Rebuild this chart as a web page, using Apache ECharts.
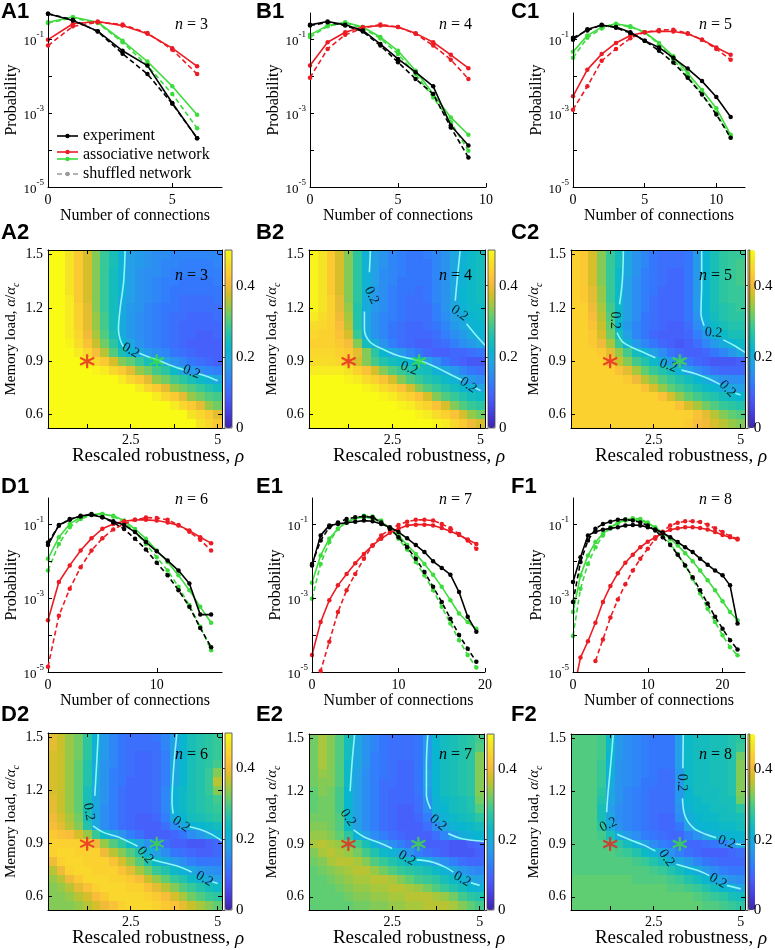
<!DOCTYPE html>
<html><head><meta charset="utf-8">
<script src="https://cdn.jsdelivr.net/npm/echarts@6/dist/echarts.min.js"></script>
<style>html,body{margin:0;padding:0;background:#fff}#c{width:775px;height:950px}</style>
</head><body><div id="c"></div>
<script>
// ---------------- DATA ----------------
// Line panels: log10(probability) vs number of connections (index = number of connections)
const A1_exp     = [-0.32,-0.50,-0.79,-1.32,-1.72,-2.73,-3.68];
const A1_expSh   = [-0.32,-0.48,-0.80,-1.40,-1.95,-2.75,-3.68];
const A1_red     = [-1.02,-0.59,-0.53,-0.64,-0.86,-1.25,-1.74];
const A1_redSh   = [-1.18,-0.66,-0.55,-0.61,-0.84,-1.29,-1.95];
const A1_grn     = [-0.55,-0.41,-0.55,-1.05,-1.61,-2.28,-3.05];
const A1_grnSh   = [-0.57,-0.43,-0.57,-1.09,-1.72,-2.49,-3.41];

const B1_exp     = [-0.62,-0.53,-0.62,-0.77,-1.14,-1.54,-1.90,-2.28,-3.34,-3.88];
const B1_expSh   = [-0.64,-0.55,-0.64,-0.80,-1.18,-1.63,-2.08,-2.49,-3.39,-4.20];
const B1_red     = [-1.72,-1.09,-0.82,-0.68,-0.64,-0.68,-0.85,-1.09,-1.43,-1.79];
const B1_redSh   = [-2.05,-1.27,-0.89,-0.71,-0.61,-0.68,-0.86,-1.18,-1.56,-2.08];
const B1_grn     = [-0.89,-0.64,-0.55,-0.68,-0.95,-1.32,-1.86,-2.49,-3.12,-3.59];
const B1_grnSh   = [-0.95,-0.66,-0.57,-0.71,-0.99,-1.41,-1.95,-2.58,-3.25,-4.02];

const C1_exp     = [-1.02,-0.74,-0.63,-0.68,-0.82,-1.05,-1.23,-1.51,-1.80,-2.14,-2.57,-3.11];
const C1_expSh   = [-0.97,-0.77,-0.62,-0.70,-0.84,-1.05,-1.32,-1.64,-2.05,-2.50,-3.04,-3.67];
const C1_red     = [-2.55,-1.83,-1.41,-1.11,-0.91,-0.82,-0.79,-0.80,-0.86,-1.02,-1.23,-1.43];
const C1_redSh   = [-2.91,-2.28,-1.59,-1.27,-0.98,-0.82,-0.76,-0.75,-0.85,-1.02,-1.27,-1.56];
const C1_grn     = [-1.35,-0.91,-0.68,-0.59,-0.66,-0.82,-1.11,-1.47,-1.93,-2.38,-2.87,-3.59];
const C1_grnSh   = [-1.51,-0.97,-0.72,-0.61,-0.68,-0.82,-1.15,-1.56,-2.01,-2.49,-3.00,-3.66];

const D1_exp     = [-1.57,-1.03,-0.89,-0.78,-0.76,-0.82,-0.93,-1.03,-1.22,-1.49,-1.74,-1.99,-2.26,-2.61,-3.45,-3.45];
const D1_expSh   = [-1.50,-1.05,-0.87,-0.80,-0.73,-0.82,-0.96,-1.14,-1.40,-1.69,-2.05,-2.39,-2.79,-3.24,-3.81,-4.33];
const D1_red     = [-3.60,-2.57,-2.12,-1.72,-1.39,-1.13,-1.00,-0.93,-0.89,-0.89,-0.91,-0.96,-1.04,-1.18,-1.36,-1.52];
const D1_redSh   = [-4.86,-3.48,-2.75,-2.17,-1.72,-1.39,-1.15,-1.00,-0.89,-0.83,-0.84,-0.89,-1.03,-1.21,-1.43,-1.72];
const D1_grn     = [-1.94,-1.36,-1.00,-0.82,-0.75,-0.73,-0.78,-0.91,-1.14,-1.40,-1.72,-2.03,-2.39,-2.79,-3.24,-3.67];
const D1_grnSh   = [-2.26,-1.54,-1.09,-0.87,-0.76,-0.73,-0.80,-0.96,-1.22,-1.54,-1.90,-2.26,-2.70,-3.20,-3.78,-4.41];

const E1_exp     = [-2.12,-1.31,-1.04,-1.00,-0.97,-0.94,-0.91,-0.93,-1.00,-1.09,-1.22,-1.39,-1.57,-1.76,-2.01,-2.19,-2.37,-2.84,-3.51,-3.91];
const E1_expSh   = [-2.08,-1.45,-1.09,-0.96,-0.87,-0.82,-0.80,-0.82,-0.96,-1.13,-1.36,-1.63,-1.94,-2.30,-2.70,-3.11,-3.56,-4.00,-4.37,-4.72];
const E1_red     = [-4.54,-3.65,-3.06,-2.66,-2.35,-2.06,-1.81,-1.58,-1.40,-1.24,-1.13,-1.04,-1.02,-1.02,-1.04,-1.11,-1.20,-1.30,-1.42,-1.54];
const E1_redSh   = [-6.5,-4.97,-4.18,-3.38,-2.79,-2.35,-1.94,-1.58,-1.31,-1.15,-1.03,-0.94,-0.89,-0.89,-0.91,-1.00,-1.12,-1.27,-1.45,-1.67];
const E1_grn     = [-2.59,-1.85,-1.40,-1.13,-0.96,-0.85,-0.82,-0.85,-0.96,-1.12,-1.31,-1.57,-1.81,-2.08,-2.37,-2.70,-3.06,-3.42,-3.65,-3.83];
const E1_grnSh   = [-3.02,-2.08,-1.49,-1.13,-0.94,-0.85,-0.78,-0.80,-0.91,-1.12,-1.40,-1.69,-2.03,-2.39,-2.79,-3.24,-3.69,-4.14,-4.54,-4.88];

const F1_exp     = [-2.57,-1.90,-1.31,-1.21,-1.16,-1.12,-1.09,-1.04,-1.03,-1.04,-1.09,-1.15,-1.24,-1.36,-1.49,-1.63,-1.76,-1.94,-2.10,-2.26,-2.39,-2.66,-3.69];
const F1_expSh   = [-3.11,-2.03,-1.45,-1.13,-1.00,-0.94,-0.89,-0.88,-0.91,-0.96,-1.04,-1.18,-1.36,-1.57,-1.83,-2.12,-2.44,-2.79,-3.15,-3.51,-3.83,-4.14,-4.39];
const F1_red     = [-5.6,-4.61,-4.17,-3.67,-3.11,-2.68,-2.33,-2.05,-1.83,-1.63,-1.48,-1.36,-1.24,-1.16,-1.12,-1.09,-1.09,-1.11,-1.15,-1.22,-1.30,-1.36,-1.42];
const F1_redSh   = [null,null,null,-4.70,-4.12,-3.53,-3.04,-2.63,-2.26,-1.94,-1.67,-1.40,-1.21,-1.04,-0.97,-0.93,-0.93,-0.95,-1.02,-1.12,-1.22,-1.33,-1.40];
const F1_grn     = [-3.38,-2.39,-1.85,-1.49,-1.27,-1.09,-0.97,-0.91,-0.89,-0.91,-0.98,-1.09,-1.24,-1.40,-1.58,-1.79,-2.01,-2.26,-2.52,-2.79,-3.09,-3.38,-3.60];
const F1_grnSh   = [-4.03,-2.75,-2.08,-1.63,-1.31,-1.12,-0.97,-0.88,-0.85,-0.87,-0.96,-1.12,-1.30,-1.54,-1.81,-2.12,-2.48,-2.88,-3.29,-3.65,-4.01,-4.33,-4.55];

const lineXTicks = {A1:[0,5], B1:[0,5,10], C1:[0,5,10], D1:[0,10], E1:[0,10,20], F1:[0,10,20]};
const lineXMax   = {A1:7, B1:10, C1:12, D1:16, E1:20, F1:23};
const logYTickLabels = [-5,-3,-1];
const nValues = {A:3, B:4, C:5, D:6, E:7, F:8};

// Heatmap grid: rescaled robustness (columns) x memory load (rows, top to bottom)
const rhoCenters   = [0.25,0.5,0.75,1,1.25,1.5,1.75,2,2.25,2.5,2.75,3,3.25,3.5,3.75,4,4.25,4.5,4.75,5];
const alphaCenters = [1.5,1.45,1.4,1.35,1.3,1.25,1.2,1.15,1.1,1.05,1,0.95,0.9,0.85,0.8,0.75,0.7,0.65,0.6,0.55];
const rhoTicks = [1.25,2.5,3.75,5], rhoLabels = [2.5,5];
const alphaTicks = [0.6,0.9,1.2,1.5];
const cbarTicks = [0,0.2,0.4];
const cbarMax = 0.5;
const contourLevel = 0.2;
const starRed = [1.25,0.9], starGreen = [3.25,0.9];

// values x100
const A2 = [
[50,50,47,43,38,33,28,25,21,18,17,16,15,15,14,14,14,14,14,14],
[50,50,47,43,38,33,28,25,21,18,17,16,15,14,14,13,13,13,13,14],
[50,50,47,43,38,33,28,24,21,18,16,15,15,14,13,13,13,13,13,13],
[50,50,47,43,38,33,28,24,21,18,16,15,14,13,13,12,12,12,12,13],
[50,50,47,43,38,33,28,24,21,18,16,15,14,13,12,12,12,12,12,12],
[50,50,48,43,38,33,28,24,20,18,16,15,14,13,12,11,11,11,11,12],
[50,50,48,44,39,33,28,24,20,17,16,14,13,12,12,11,11,11,11,11],
[50,50,48,44,39,34,29,24,20,17,15,14,13,12,11,11,10,10,10,11],
[50,50,48,44,39,34,29,24,20,17,15,14,13,12,11,10,10,10,10,10],
[50,50,48,45,40,35,30,25,20,17,15,14,13,12,11,10,10,9,9,10],
[50,50,49,46,42,37,32,27,22,19,16,14,13,12,11,10,9,9,9,9],
[50,50,50,48,45,41,36,30,25,21,19,17,15,14,12,11,10,9,9,9],
[50,50,50,50,48,45,43,38,33,31,28,25,21,18,16,14,12,11,10,9],
[50,50,50,50,50,49,48,45,43,39,34,32,29,27,23,19,17,15,14,13],
[50,50,50,50,50,50,50,50,48,45,43,39,34,32,29,27,25,23,21,19],
[50,50,50,50,50,50,50,50,50,50,48,45,43,39,34,32,30,28,26,24],
[50,50,50,50,50,50,50,50,50,50,50,50,48,45,43,39,34,32,30,29],
[50,50,50,50,50,50,50,50,50,50,50,50,50,50,48,45,43,39,34,32],
[50,50,50,50,50,50,50,50,50,50,50,50,50,50,50,50,47,45,43,39],
[50,50,50,50,50,50,50,50,50,50,50,50,50,50,50,50,50,47,45,43]];
const B2 = [
[49,47,43,38,33,27,21,18,16,14,13,12,12,13,14,16,19,21,23,24],
[49,47,43,38,33,27,21,18,16,14,13,12,12,12,14,16,19,21,23,24],
[49,47,43,38,33,27,21,18,15,14,13,12,12,12,14,16,19,21,23,24],
[49,47,43,38,33,27,21,18,15,14,12,12,12,12,14,16,19,21,23,24],
[49,47,43,38,33,27,21,17,15,13,12,12,11,12,14,16,19,22,23,24],
[49,47,44,39,33,27,20,17,15,13,12,11,11,12,14,16,19,22,23,24],
[49,47,44,39,34,26,20,17,15,13,12,11,11,11,13,16,19,21,23,23],
[48,46,44,40,35,26,19,16,14,13,12,11,11,11,13,15,18,20,22,23],
[46,45,44,41,36,26,19,16,14,12,11,10,10,11,12,14,17,19,21,22],
[45,44,44,42,38,28,20,16,14,12,11,10,10,10,11,13,15,17,20,21],
[44,44,44,43,41,33,24,20,16,13,11,10,9,9,10,11,13,15,17,19],
[45,45,45,44,43,39,33,27,22,19,17,14,12,10,9,9,10,10,11,12],
[46,46,46,45,43,38,33,29,26,24,23,22,21,18,15,12,10,9,8,8],
[48,48,48,48,47,44,42,38,33,30,28,26,25,24,21,19,17,14,12,11],
[50,50,50,50,49,48,46,44,42,38,33,30,28,26,25,23,21,19,17,15],
[50,50,50,50,50,50,49,48,46,44,42,38,33,30,28,26,24,22,21,19],
[50,50,50,50,50,50,50,50,49,48,46,44,42,38,33,30,28,26,24,23],
[50,50,50,50,50,50,50,50,50,50,49,48,46,44,42,38,33,30,28,27],
[50,50,50,50,50,50,50,50,50,50,50,50,49,48,46,44,42,38,34,32],
[50,50,50,50,50,50,50,50,50,50,50,50,50,50,49,48,45,43,40,38]];
const C2 = [
[44,43,38,33,28,24,19,16,14,12,11,11,11,12,17,22,25,27,28,28],
[44,43,38,33,28,24,19,16,14,12,11,11,11,12,17,22,25,27,28,29],
[44,43,38,33,28,23,19,16,13,12,11,10,10,12,17,22,25,27,28,29],
[44,43,38,33,28,23,18,15,13,12,11,10,10,12,17,22,25,27,28,29],
[44,43,39,34,28,23,18,15,13,12,10,10,10,12,17,22,25,27,28,28],
[44,43,39,34,28,23,18,15,13,11,10,10,10,12,17,22,25,27,28,28],
[44,44,40,35,29,23,18,15,13,11,10,10,10,12,17,22,25,26,27,28],
[44,44,41,36,30,23,18,15,12,11,10,10,10,12,16,21,24,26,27,27],
[44,44,42,37,31,22,17,14,12,11,10,9,9,11,15,20,23,25,26,26],
[44,44,43,38,32,24,18,14,12,10,9,9,9,10,13,17,21,23,25,25],
[44,44,43,40,35,28,21,17,14,12,10,9,8,9,11,14,17,20,22,23],
[44,44,44,43,39,34,29,24,21,18,15,12,10,9,9,10,12,14,17,19],
[44,44,44,44,41,37,33,29,26,23,20,17,14,12,10,9,8,8,8,9],
[44,44,44,44,44,42,39,35,31,28,26,24,21,18,15,13,11,10,10,10],
[44,44,44,44,44,44,43,40,36,33,30,28,26,24,22,20,18,16,15,15],
[44,44,44,44,44,44,44,44,42,38,34,31,29,27,25,23,22,20,19,18],
[44,44,44,44,44,44,44,44,44,44,42,38,34,31,29,27,26,24,23,22],
[44,44,44,44,44,44,44,44,44,44,44,44,42,38,35,32,30,28,27,26],
[44,44,44,44,44,44,44,44,44,44,44,44,44,44,42,39,36,33,31,30],
[44,44,44,44,44,44,44,44,44,44,44,44,44,43,41,40,38,36,34,33]];
const D2 = [
[39,37,34,32,27,21,17,14,12,11,11,11,12,14,18,22,25,26,27,28],
[39,37,34,32,27,21,17,14,12,11,11,11,11,14,18,22,25,26,27,28],
[38,37,34,32,27,21,17,14,12,11,10,10,11,13,18,22,25,26,27,28],
[38,37,34,31,26,20,16,14,12,11,10,10,11,13,19,22,25,26,27,29],
[38,37,34,31,26,20,16,13,12,11,10,10,11,13,19,22,25,26,28,33],
[38,37,34,31,26,20,16,13,12,10,10,10,11,13,19,22,25,26,28,36],
[38,37,34,31,25,19,16,13,11,10,10,10,11,14,21,23,25,26,28,33],
[39,37,34,31,25,19,16,13,11,10,10,10,11,14,21,23,25,26,27,29],
[39,37,34,31,25,19,15,13,11,10,10,10,11,14,21,23,25,26,27,28],
[40,38,35,32,25,19,15,13,11,10,9,9,10,13,20,22,24,25,26,27],
[41,39,36,33,26,19,15,13,11,10,9,9,9,11,15,19,21,22,23,24],
[43,42,41,38,34,28,23,19,16,13,11,9,9,9,10,12,15,17,19,21],
[44,44,44,44,43,40,34,30,27,23,19,16,13,11,9,9,8,8,9,10],
[44,45,45,44,44,44,40,36,33,30,26,21,18,15,12,11,10,9,9,10],
[40,44,45,45,44,44,44,42,38,34,30,26,23,20,17,15,13,12,12,12],
[36,40,44,45,45,44,44,44,42,39,35,32,28,26,23,21,19,17,16,15],
[34,36,40,43,45,45,45,44,44,43,41,37,34,31,28,26,23,21,19,18],
[33,34,36,39,42,44,45,45,45,44,44,42,39,36,33,30,28,26,24,23],
[33,33,34,36,38,41,43,45,45,45,45,44,43,41,38,35,32,30,28,27],
[33,33,33,34,36,38,40,42,44,45,45,45,44,43,42,39,37,35,33,31]];
const E2 = [
[32,35,33,30,24,19,16,14,12,11,11,11,12,17,22,24,25,26,27,29],
[32,35,33,30,24,19,16,14,12,11,11,11,12,17,22,24,25,26,27,30],
[32,35,33,30,24,19,16,13,12,11,11,11,12,17,22,24,25,26,27,33],
[32,35,33,30,23,19,16,13,12,11,10,10,12,17,22,24,25,26,27,33],
[32,34,33,30,23,18,15,13,12,11,10,10,12,18,22,24,25,26,27,33],
[32,33,33,30,23,18,15,13,11,11,10,10,12,18,22,24,25,26,27,33],
[31,33,32,29,22,18,15,13,11,10,10,10,12,17,22,24,25,26,27,33],
[31,32,32,29,22,18,15,13,11,10,10,10,11,16,21,23,24,25,26,32],
[31,32,32,29,22,18,15,13,11,10,9,9,11,15,21,22,24,25,26,30],
[32,32,32,30,22,18,15,13,11,10,9,9,10,13,19,21,23,24,25,27],
[33,33,32,30,23,18,15,13,11,10,9,9,9,11,15,19,21,22,23,24],
[34,34,33,31,27,21,18,15,13,11,10,9,9,9,11,14,17,20,21,22],
[35,36,35,34,32,29,25,21,18,15,13,11,10,9,9,9,8,8,9,10],
[33,35,36,35,34,32,29,26,23,21,19,16,13,11,10,9,8,8,8,9],
[32,33,35,36,36,35,33,30,28,26,24,23,22,20,17,15,13,11,10,10],
[31,32,33,34,35,36,36,34,32,30,28,27,26,25,23,21,19,17,15,14],
[31,31,32,33,34,35,35,36,36,35,33,31,29,28,27,25,23,21,19,18],
[31,31,31,32,33,34,34,35,35,36,36,35,34,32,30,28,26,24,22,21],
[31,31,31,31,32,33,33,34,34,35,35,36,36,36,35,34,32,29,27,26],
[31,31,31,31,31,32,32,33,33,34,34,35,35,36,36,36,35,33,31,29]];
const F2 = [
[30,30,30,29,23,17,15,14,13,12,12,12,18,23,24,24,25,25,26,27],
[30,30,30,29,23,17,15,14,13,12,12,12,18,23,24,24,25,25,26,28],
[30,30,30,29,22,17,15,14,13,12,12,12,18,23,24,24,25,25,26,32],
[30,30,30,28,21,16,15,14,13,12,12,12,18,23,24,24,25,25,26,33],
[30,30,30,28,21,16,15,14,13,12,11,11,17,23,24,24,25,25,26,33],
[30,30,30,28,20,16,15,14,12,12,11,11,17,23,24,24,25,25,26,33],
[30,30,30,27,19,16,14,13,12,11,11,11,17,22,24,24,24,25,26,33],
[30,30,30,26,19,16,14,13,12,11,11,11,17,22,23,24,24,25,25,32],
[30,30,30,25,18,15,14,13,12,11,11,11,16,21,23,23,24,24,25,27],
[30,30,30,25,19,15,14,13,12,11,10,10,15,20,22,23,23,24,24,25],
[30,30,30,27,20,16,14,13,12,11,10,10,12,18,21,22,22,23,23,24],
[30,30,30,29,25,20,17,15,13,12,11,10,10,13,16,19,21,21,22,22],
[30,30,30,30,29,27,24,21,18,15,13,12,11,10,10,11,12,14,17,19],
[30,30,30,30,30,29,28,26,23,21,19,16,13,11,10,9,9,9,10,11],
[30,30,30,30,30,30,30,29,28,26,24,21,19,17,14,12,11,10,10,10],
[30,30,30,30,30,30,30,30,30,29,28,26,24,22,20,17,15,13,12,12],
[31,31,31,31,31,31,31,30,30,30,30,29,28,26,24,22,20,18,16,15],
[31,31,31,31,31,31,31,31,31,31,31,30,30,29,28,26,24,22,21,19],
[31,31,31,31,31,31,31,31,31,31,31,31,31,31,30,29,28,27,25,24],
[31,31,31,31,31,31,31,31,31,31,31,31,31,31,31,30,30,29,28,27]];

// 0.2 contour lines (segments) and their labels [rho, alpha, angle]
const A2_contour = [
 [[2.34,1.525],[2.30,1.35],[2.20,1.2],[2.15,1.08],[2.2,1.02],[2.3,0.98]],
 [[2.75,0.945],[3.0,0.925],[3.3,0.905],[3.6,0.88],[3.9,0.86],[4.05,0.85]],
 [[4.45,0.83],[4.7,0.815],[5.0,0.79]]];
const A2_clabels = [[2.5,0.96,-30],[4.25,0.84,-22]];
const B2_contour = [
 [[1.87,1.525],[1.84,1.40]],
 [[1.70,1.18],[1.70,1.08],[1.85,1.01],[2.2,0.97],[2.6,0.935],[3.0,0.915],[3.4,0.895],[3.8,0.86],[4.2,0.82],[4.5,0.79]],
 [[4.85,0.75],[5.0,0.735]],
 [[4.42,1.525],[4.33,1.35],[4.28,1.24]],
 [[4.6,1.11],[4.85,1.05],[5.125,0.99]]];
const B2_clabels = [[1.9,1.27,-65],[2.97,0.86,-20],[4.65,0.765,-35],[4.4,1.17,-35]];
const C2_contour = [
 [[1.63,1.525],[1.60,1.35],[1.52,1.22]],
 [[1.45,1.06],[1.6,1.01],[1.85,0.98],[2.2,0.95],[2.55,0.92]],
 [[3.3,0.85],[3.7,0.83],[4.1,0.80],[4.4,0.77]],
 [[4.85,0.72],[5.0,0.71]],
 [[3.88,1.525],[3.88,1.33],[3.86,1.17],[3.95,1.10]],
 [[4.5,1.02],[4.8,0.99],[5.125,0.95]]];
const C2_clabels = [[1.38,1.13,-90],[2.92,0.875,-20],[4.62,0.745,-45],[4.22,1.06,-5]];
const D2_contour = [
 [[1.57,1.525],[1.52,1.34],[1.47,1.17]],
 [[1.42,1.0],[1.7,0.965],[2.1,0.94],[2.45,0.91],[2.7,0.885]],
 [[3.1,0.81],[3.5,0.79],[3.9,0.77],[4.25,0.74]],
 [[4.85,0.685],[5.0,0.675]],
 [[3.83,1.525],[3.74,1.34],[3.69,1.14],[3.72,1.07]],
 [[4.2,0.995],[4.5,0.98],[4.8,0.955],[5.125,0.915]]];
const D2_clabels = [[1.3,1.08,-80],[2.92,0.835,-50],[4.62,0.70,-30],[3.95,1.01,-35]];
const E2_contour = [
 [[1.43,1.525],[1.35,1.35],[1.3,1.2]],
 [[1.4,0.98],[1.7,0.94],[2.1,0.91],[2.5,0.875]],
 [[3.2,0.81],[3.6,0.8],[4.0,0.77],[4.25,0.74]],
 [[4.75,0.68],[5.0,0.665]],
 [[3.52,1.525],[3.48,1.35],[3.48,1.18],[3.6,1.1]],
 [[4.1,0.96],[4.5,0.93],[5.125,0.915]]];
const E2_clabels = [[1.24,1.05,-55],[2.92,0.82,-30],[4.5,0.70,-30],[3.81,1.02,-40]];
const F2_contour = [
 [[1.34,1.525],[1.26,1.34],[1.18,1.17],[1.15,1.08]],
 [[1.45,0.955],[1.8,0.925],[2.2,0.895],[2.55,0.86]],
 [[3.15,0.785],[3.5,0.765],[3.9,0.74],[4.1,0.72]],
 [[4.6,0.665],[5.0,0.645]],
 [[3.35,1.525],[3.34,1.33]],
 [[3.33,1.16],[3.4,1.06],[3.65,0.99],[4.0,0.955],[4.3,0.935]],
 [[4.85,0.9],[5.125,0.895]]];
const F2_clabels = [[1.2,1.01,25],[2.87,0.82,-55],[4.35,0.69,-30],[3.3,1.25,-90],[4.6,0.91,-20]];

// ---------------- STYLE / LAYOUT ----------------
const SERIF = '"Liberation Serif","Times New Roman",serif';
const SANS = '"Liberation Sans",Arial,sans-serif';
// MATLAB parula (sampled)
const parula = ['#3e26a8','#4537d5','#484df0','#4563fd','#327bfc','#2b91ef','#20a5e3','#08b5d0',
                '#19bfb6','#37c897','#63cd6f','#9dc943','#d1bf27','#f8ba3d','#fccf30','#f5e327','#f9fb15'];
const COL = {exp:'#000000', red:'#ec1c24', grn:'#3ddc3d'};

const linePanels = [
 {id:'A1', left:48,  top:13,  width:174, height:174, sets:[A1_grn,A1_grnSh,A1_red,A1_redSh,A1_exp,A1_expSh]},
 {id:'B1', left:310, top:13,  width:176, height:174, sets:[B1_grn,B1_grnSh,B1_red,B1_redSh,B1_exp,B1_expSh]},
 {id:'C1', left:573, top:13,  width:172, height:174, sets:[C1_grn,C1_grnSh,C1_red,C1_redSh,C1_exp,C1_expSh]},
 {id:'D1', left:48,  top:498, width:174, height:174, sets:[D1_grn,D1_grnSh,D1_red,D1_redSh,D1_exp,D1_expSh]},
 {id:'E1', left:312, top:498, width:173, height:174, sets:[E1_grn,E1_grnSh,E1_red,E1_redSh,E1_exp,E1_expSh]},
 {id:'F1', left:573, top:498, width:172, height:174, sets:[F1_grn,F1_grnSh,F1_red,F1_redSh,F1_exp,F1_expSh]}];
const setStyle = [['grn',false],['grn',true],['red',false],['red',true],['exp',false],['exp',true]];

const heatPanels = [
 {id:'A2', left:48,  top:250, width:174, height:178, vals:A2, cont:A2_contour, lab:A2_clabels},
 {id:'B2', left:309, top:250, width:176, height:178, vals:B2, cont:B2_contour, lab:B2_clabels},
 {id:'C2', left:571, top:250, width:174, height:178, vals:C2, cont:C2_contour, lab:C2_clabels},
 {id:'D2', left:48,  top:733, width:174, height:177, vals:D2, cont:D2_contour, lab:D2_clabels},
 {id:'E2', left:309, top:734, width:175, height:176, vals:E2, cont:E2_contour, lab:E2_clabels},
 {id:'F2', left:571, top:734, width:174, height:176, vals:F2, cont:F2_contour, lab:F2_clabels}];

const grid = [], xAxis = [], yAxis = [], series = [], visualMap = [], graphic = [];
const tickFont = {fontFamily:SERIF, fontSize:14, color:'#000'};

function axLine(){ return {show:true, onZero:false, lineStyle:{color:'#000', width:1}}; }
function txt(x, y, text, style) {
  graphic.push({type:'text', x, y, z:100, silent:true, style:Object.assign({text, fill:'#000'}, style)});
}

// line panels
linePanels.forEach(p => {
  const gi = grid.push({left:p.left, top:p.top, width:p.width, height:p.height}) - 1;
  const xi = xAxis.push({gridIndex:gi, type:'value', min:0, max:lineXMax[p.id], z:5,
    axisLine:axLine(), splitLine:{show:false},
    axisTick:{show:true, inside:true, length:4, customValues:lineXTicks[p.id], lineStyle:{color:'#000'}},
    axisLabel:Object.assign({customValues:lineXTicks[p.id], margin:6}, tickFont),
    name:'Number of connections', nameLocation:'middle', nameGap:19,
    nameTextStyle:{fontFamily:SERIF, fontSize:16, color:'#000', verticalAlign:'top'}}) - 1;
  const yi = yAxis.push({gridIndex:gi, type:'value', min:-5, max:-0.3, z:5,
    axisLine:axLine(), splitLine:{show:false},
    axisTick:{show:true, inside:true, length:4, customValues:[-5,-4,-3,-2,-1], lineStyle:{color:'#000'}},
    axisLabel:{customValues:logYTickLabels, margin:4, formatter:v => '{b|10}{s|' + v + '}',
      rich:{b:{fontFamily:SERIF, fontSize:13, color:'#000', lineHeight:18, verticalAlign:'bottom'},
            s:{fontFamily:SERIF, fontSize:9, color:'#000', lineHeight:10, verticalAlign:'top'}}},
    name:'Probability', nameLocation:'middle', nameGap:24,
    nameTextStyle:{fontFamily:SERIF, fontSize:16, color:'#000'}}) - 1;
  p.sets.forEach((vals, k) => {
    const [c, dashed] = setStyle[k];
    series.push({type:'line', xAxisIndex:xi, yAxisIndex:yi,
      data: vals.map((v, i) => [i, v]).filter(d => d[1] !== null),
      symbol:'circle', symbolSize:4.5, showSymbol:true, clip:true,
      itemStyle:{color:COL[c]},
      lineStyle:{color:COL[c], width:1.6, type: dashed ? [5,3] : 'solid'},
      z: 2 + k, silent:true});
  });
});

// heatmap panels
const HW = (rhoCenters[1] - rhoCenters[0]) / 2;
const HH = (alphaCenters[0] - alphaCenters[1]) / 2;
function cellRender(params, api) {
  const x = api.value(0), y = api.value(1);
  const a = api.coord([x - HW, y + HH]);
  const b = api.coord([x + HW, y - HH]);
  const x0 = Math.round(a[0]), y0 = Math.round(a[1]);
  return {type:'rect', shape:{x:x0, y:y0, width:Math.round(b[0]) - x0, height:Math.round(b[1]) - y0},
          style:{fill: api.visual('color')}};
}
const starPath = 'path://M0,-10L0,10M-8.66,-5L8.66,5M-8.66,5L8.66,-5';

heatPanels.forEach(p => {
  const gi = grid.push({left:p.left, top:p.top, width:p.width, height:p.height}) - 1;
  const xmin = rhoCenters[0] - HW, xmax = rhoCenters[rhoCenters.length - 1] + HW;
  const ymin = alphaCenters[alphaCenters.length - 1] - HH, ymax = alphaCenters[0] + HH;
  const xi = xAxis.push({gridIndex:gi, type:'value', min:xmin, max:xmax, z:5, position:'bottom',
    axisLine:axLine(), splitLine:{show:false},
    axisTick:{show:true, inside:true, length:4, customValues:rhoTicks, lineStyle:{color:'#000'}},
    axisLabel:Object.assign({customValues:rhoLabels, margin:5, formatter:v => String(v)}, tickFont)}) - 1;
  txt(p.left + 110, p.top + p.height + 19, 'Rescaled robustness, {i|ρ}',
    {fontFamily:SERIF, fontSize:19, align:'center', verticalAlign:'top',
     rich:{i:{fontFamily:SERIF, fontSize:19, fontStyle:'italic'}}});
  xAxis.push({gridIndex:gi, type:'value', min:xmin, max:xmax, z:5, position:'top',
    axisLine:axLine(), splitLine:{show:false},
    axisTick:{show:true, inside:true, length:4, customValues:rhoTicks, lineStyle:{color:'#000'}},
    axisLabel:{show:false}});
  const yi = yAxis.push({gridIndex:gi, type:'value', min:ymin, max:ymax, z:5, position:'left',
    axisLine:axLine(), splitLine:{show:false},
    axisTick:{show:true, inside:true, length:4, customValues:alphaTicks, lineStyle:{color:'#000'}},
    axisLabel:Object.assign({customValues:alphaTicks, margin:5, formatter:v => v.toFixed(1)}, tickFont),
    name:'Memory load, {i|α}/{i|α}{sub|c}', nameLocation:'middle', nameGap:27,
    nameTextStyle:{fontFamily:SERIF, fontSize:15, color:'#000', lineHeight:20,
      rich:{i:{fontFamily:SERIF, fontSize:15, fontStyle:'italic', color:'#000', lineHeight:20},
            sub:{fontFamily:SERIF, fontSize:10, fontStyle:'italic', color:'#000', lineHeight:9, verticalAlign:'bottom'}}}}) - 1;
  yAxis.push({gridIndex:gi, type:'value', min:ymin, max:ymax, z:5, position:'right',
    axisLine:axLine(), splitLine:{show:false},
    axisTick:{show:true, inside:true, length:4, customValues:alphaTicks, lineStyle:{color:'#000'}},
    axisLabel:{show:false}});
  const data = [];
  p.vals.forEach((row, r) => row.forEach((v, c) => data.push([rhoCenters[c], alphaCenters[r], v / 100])));
  const si = series.push({type:'custom', xAxisIndex:xi, yAxisIndex:yi, data, renderItem:cellRender,
    encode:{x:0, y:1}, z:1, silent:true}) - 1;
  visualMap.push({type:'continuous', seriesIndex:si, dimension:2, min:0, max:cbarMax,
    inRange:{color:parula}, calculable:false, hoverLink:false, orient:'vertical',
    left:p.left + p.width + 3, top:p.top, itemWidth:7, itemHeight:p.height, padding:0, showLabel:false});
  p.cont.forEach(seg => series.push({type:'line', xAxisIndex:xi, yAxisIndex:yi, data:seg,
    symbol:'none', showSymbol:false, smooth:0.35, lineStyle:{color:'#8cf6f8', width:1.6}, z:3, silent:true}));
  series.push({type:'scatter', xAxisIndex:xi, yAxisIndex:yi, symbolSize:0, z:4, silent:true,
    data:p.lab.map(l => ({value:[l[0], l[1]], label:{rotate:l[2]}})),
    label:{show:true, position:'inside', formatter:() => String(contourLevel), fontFamily:SERIF, fontSize:14, color:'#000'}});
  series.push({type:'scatter', xAxisIndex:xi, yAxisIndex:yi, symbol:starPath, symbolSize:14, z:6, silent:true,
    data:[starRed], itemStyle:{color:'none', borderColor:'#e8231f', borderWidth:2.2}});
  series.push({type:'scatter', xAxisIndex:xi, yAxisIndex:yi, symbol:starPath, symbolSize:14, z:6, silent:true,
    data:[starGreen], itemStyle:{color:'none', borderColor:'#3fe03a', borderWidth:2.2}});
  // colorbar frame and ticks
  const cg = grid.push({left:p.left + p.width + 3, top:p.top, width:7, height:p.height, z:8,
    show:true, borderColor:'#444', borderWidth:0.8, backgroundColor:'transparent'}) - 1;
  xAxis.push({gridIndex:cg, type:'value', min:0, max:1, show:false});
  yAxis.push({gridIndex:cg, type:'value', min:0, max:cbarMax, position:'right', z:9,
    axisLine:{show:false}, splitLine:{show:false},
    axisTick:{show:true, inside:true, length:2, customValues:cbarTicks, lineStyle:{color:'#444'}},
    axisLabel:Object.assign({customValues:cbarTicks, margin:4, formatter:v => String(v)}, tickFont, {fontSize:15})});
});

// texts: panel labels and n values
[['A1',1,1],['B1',256,1],['C1',511,1],['A2',1,222],['B2',256,222],['C2',511,222],
 ['D1',1,476],['E1',256,476],['F1',511,476],['D2',1,704],['E2',256,704],['F2',511,704]]
 .forEach(([t, x, y]) => txt(x, y, t, {font:'bold 22px ' + SANS, verticalAlign:'top'}));
const nRowY = [25, 276, 500, 755];
[['A',208,0],['B',472,0],['C',732,0],['A',208,1],['B',472,1],['C',732,1],
 ['D',208,2],['E',472,2],['F',732,2],['D',208,3],['E',472,3],['F',732,3]].forEach(([k, x, r]) => {
  txt(x, nRowY[r], '{i|n} = ' + nValues[k], {fontFamily:SERIF, fontSize:16, align:'right', verticalAlign:'middle',
    rich:{i:{fontFamily:SERIF, fontSize:16, fontStyle:'italic'}}});
});

// legend (panel A1)
function legLine(y, color, dashed) {
  graphic.push({type:'line', z:100, silent:true, shape:{x1:57, y1:y, x2:78, y2:y},
    style:{stroke:color, lineWidth:1.6, lineDash: dashed ? [5,3] : null}});
  graphic.push({type:'circle', z:101, silent:true, shape:{cx:67.5, cy:y, r:2.2}, style:{fill:color}});
}
legLine(136, COL.exp, false);
legLine(152, COL.red, false);
legLine(159, COL.grn, false);
legLine(174, '#9a9a9a', true);
txt(83, 136, 'experiment', {fontFamily:SERIF, fontSize:16, verticalAlign:'middle'});
txt(83, 155, 'associative network', {fontFamily:SERIF, fontSize:16, verticalAlign:'middle'});
txt(83, 174, 'shuffled network', {fontFamily:SERIF, fontSize:16, verticalAlign:'middle'});

const chart = echarts.init(document.getElementById('c'), null, {renderer:'canvas', width:775, height:950});
chart.setOption({animation:false, backgroundColor:'#fff', grid, xAxis, yAxis, series, visualMap, graphic});
</script></body></html>
